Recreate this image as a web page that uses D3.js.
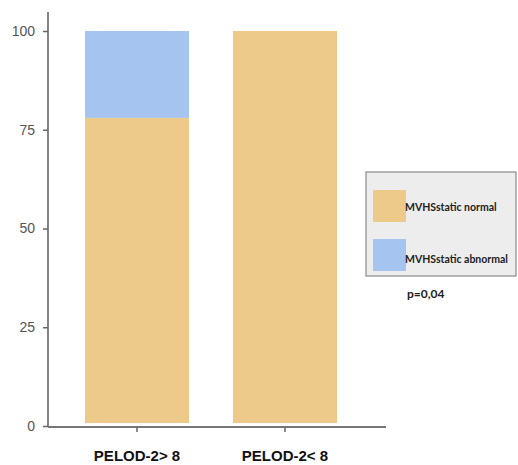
<!DOCTYPE html>
<html><head><meta charset="utf-8">
<script src="https://cdn.jsdelivr.net/npm/d3@7"></script>
<style>body{margin:0;background:#fff}svg{display:block}</style>
</head><body>
<svg id="c" width="518" height="465"></svg>
<script>
const categories = ["PELOD-2> 8", "PELOD-2< 8"];
const seriesNames = ["MVHSstatic normal", "MVHSstatic abnormal"];
const normalValues = [78, 100];
const abnormalValues = [22, 0];
const yTicks = [0, 25, 50, 75, 100];
const pText = "p=0,04";
const colors = ["#EDCA8A", "#A6C4F0"];

const svg = d3.select("#c");
const y = d3.scaleLinear().domain([0, 100]).range([426, 31]);
const x = d3.scaleBand().domain(categories).range([48, 374]).paddingInner(0.297).paddingOuter(0.25);

const rows = categories.map((c, i) => ({cat: c, normal: normalValues[i], abnormal: abnormalValues[i]}));
const stack = d3.stack().keys(["normal", "abnormal"])(rows);

svg.append("g").selectAll("g").data(stack).join("g")
  .attr("fill", (d, i) => colors[i])
  .selectAll("rect").data(d => d).join("rect")
  .attr("x", d => x(d.data.cat))
  .attr("width", x.bandwidth())
  .attr("y", d => y(d[1]))
  .attr("height", d => Math.max(0, y(d[0]) - y(d[1]) - (d[0] === 0 ? 3 : 0)));

// y axis
const ya = svg.append("g").attr("transform", "translate(48,0)")
  .call(d3.axisLeft(y).tickValues(yTicks).tickSize(5).tickPadding(8));
ya.select(".domain").remove();
ya.selectAll(".tick line").attr("stroke", "#666").attr("stroke-width", 1.5);
ya.selectAll(".tick text").attr("fill", "#555").style("font-family", "'Liberation Sans', Arial, sans-serif").style("font-size", "14px");
svg.append("line").attr("x1", 48).attr("x2", 48).attr("y1", 12).attr("y2", 427).attr("stroke", "#666").attr("stroke-width", 1.6);

// x axis
svg.append("line").attr("x1", 48).attr("x2", 386).attr("y1", 427).attr("y2", 427).attr("stroke", "#777").attr("stroke-width", 2);
const xa = svg.append("g").attr("transform", "translate(0,427)")
  .call(d3.axisBottom(x).tickSize(5).tickPadding(29));
xa.select(".domain").remove();
xa.selectAll(".tick line").attr("stroke", "#666").attr("stroke-width", 1.5);
xa.selectAll(".tick text").attr("fill", "#111").style("font-family", "'Liberation Sans', Arial, sans-serif")
  .style("font-size", "15px").style("font-weight", "bold").attr("dy", "0");

// legend
const lg = svg.append("g");
lg.append("rect").attr("x", 366).attr("y", 172).attr("width", 150).attr("height", 104)
  .attr("fill", "#EDEDED").attr("stroke", "#8a8a8a").attr("stroke-width", 1.2);
seriesNames.forEach((s, i) => {
  const yy = 190 + i * 49;
  lg.append("rect").attr("x", 373).attr("y", yy).attr("width", 33).attr("height", 32).attr("fill", colors[i]);
  lg.append("text").attr("x", 405).attr("y", yy + 21 + i * 3).text(s)
    .style("font-family", "Lato, 'Open Sans', sans-serif").style("font-weight", "bold").style("font-size", "10.5px").attr("fill", "#222");
});
svg.append("text").attr("x", 407).attr("y", 298).text(pText)
  .style("font-family", "Lato, 'Open Sans', sans-serif").style("font-weight", "bold").style("font-size", "12px").attr("fill", "#222");
</script>
</body></html>
